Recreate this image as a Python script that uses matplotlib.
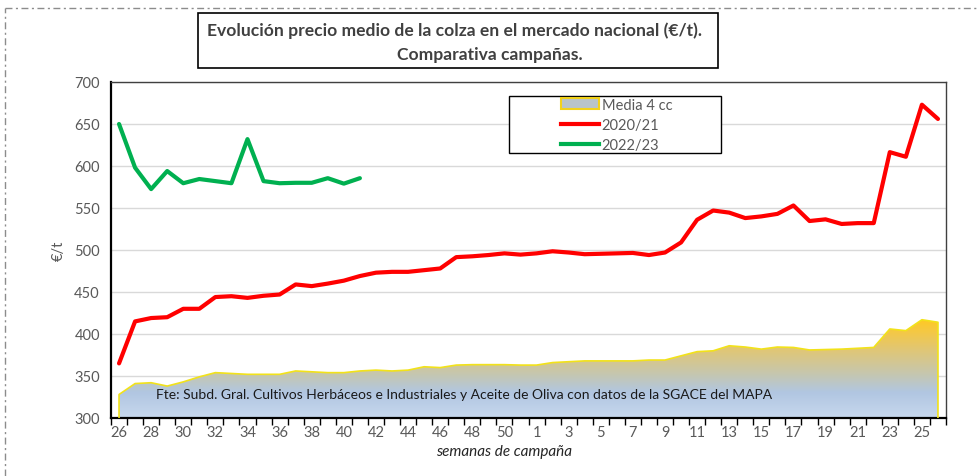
import numpy as np
import matplotlib
matplotlib.use('Agg')
import matplotlib.pyplot as plt
from matplotlib.colors import LinearSegmentedColormap
from matplotlib.patches import Rectangle, Patch
from matplotlib.lines import Line2D

plt.rcParams['font.family'] = ['Lato', 'DejaVu Sans']

# semanas de campaña (26..51 y 1..26)
semanas = [26, 27, 28, 29, 30, 31, 32, 33, 34, 35, 36, 37, 38, 39, 40, 41, 42, 43, 44,
           45, 46, 47, 48, 49, 50, 51, 1, 2, 3, 4, 5, 6, 7, 8, 9, 10, 11, 12, 13, 14,
           15, 16, 17, 18, 19, 20, 21, 22, 23, 24, 25, 26]

media_4cc = [328, 341, 342, 338, 343, 349, 354, 353, 352, 352, 352, 356, 355, 354,
             354, 356, 357, 356, 357, 361, 360, 363, 363.5, 363.5, 363.5, 363, 363,
             366, 367, 368, 368, 368, 368, 369, 369, 374, 379, 380, 386, 384.5, 382,
             384.5, 384, 381, 381.5, 382, 383, 384, 406, 404, 417, 414]

c2020_21 = [365, 415, 419, 420, 430, 430, 444, 445, 443, 445.5, 447, 459, 457, 460,
            463.5, 469, 473, 474, 474, 476, 478, 491.5, 492.5, 494, 496, 494.5, 496,
            498.5, 497, 495, 495.5, 496, 496.5, 494, 497, 509, 536, 547, 544.5, 538,
            540, 543, 553, 534.5, 536.5, 531, 532, 532, 616.5, 611, 673, 656]

c2022_23 = [650, 598, 572.5, 594, 579.5, 584.5, 582, 579.5, 632, 582, 579.5, 580,
            580, 585.5, 579, 585.5]

fig = plt.figure(figsize=(9.78, 4.77), dpi=100)
ax = fig.add_axes([111 / 978, 1 - 419 / 477, 835 / 978, 336 / 477])

x = np.arange(len(semanas))
ymin, ymax = 300, 700

# área con degradado (Media 4 cc)
x_m = np.arange(len(media_4cc))
poly = ax.fill_between(x_m, media_4cc, ymin, facecolor='none', edgecolor='none', zorder=2)
cmap = LinearSegmentedColormap.from_list('grad', [
    (0.0, '#c7d8ee'), (0.26, '#b1c6e1'), (0.43, '#c4c7b3'),
    (0.68, '#dfc678'), (0.86, '#f3c848'), (1.0, '#ffc922')])
grad = np.linspace(0, 1, 256).reshape(-1, 1)
img = ax.imshow(grad, cmap=cmap, origin='lower', aspect='auto', zorder=2,
                extent=[x_m[0], x_m[-1], ymin, max(media_4cc)])
img.set_clip_path(poly.get_paths()[0], transform=ax.transData)
edge_x = np.concatenate([[x_m[0]], x_m, [x_m[-1]]])
edge_y = np.concatenate([[ymin], media_4cc, [ymin]])
ax.plot(edge_x, edge_y, color='#f2e21a', lw=1.2, zorder=3)

ax.plot(x[:len(c2020_21)], c2020_21, color='#ff0000', lw=3, zorder=4,
        solid_joinstyle='round', solid_capstyle='round')
ax.plot(x[:len(c2022_23)], c2022_23, color='#00b050', lw=3, zorder=4,
        solid_joinstyle='round', solid_capstyle='round')

ax.set_xlim(-0.5, len(semanas) - 0.5)
ax.set_ylim(ymin, ymax)
ax.set_yticks(np.arange(300, 701, 50))
ax.grid(axis='y', color='#d9d9d9', lw=1, zorder=0)
ax.set_axisbelow(True)

ax.set_xticks(x[::2])
ax.set_xticklabels(semanas[::2])
ax.set_xticks(np.arange(-0.5, len(semanas), 1), minor=True)
ax.tick_params(axis='x', which='major', length=0, pad=5, labelsize=10.5, labelcolor='#595959')
ax.tick_params(axis='x', which='minor', length=5, width=1, color='black', direction='out')
ax.tick_params(axis='y', length=0, pad=8, labelsize=10.5, labelcolor='#595959')

for s in ['top', 'right']:
    ax.spines[s].set_color('#404040')
    ax.spines[s].set_linewidth(1)
for s in ['left', 'bottom']:
    ax.spines[s].set_color('black')
    ax.spines[s].set_linewidth(1.6)

ax.set_ylabel('€/t', fontsize=10.5, color='#595959', labelpad=6)
fig.text(504 / 978, 1 - 452 / 477, 'semanas de campaña', ha='center', va='center',
         fontsize=11, style='italic', color='#262626')

fig.text(156 / 978, 1 - 395 / 477,
         'Fte: Subd. Gral. Cultivos Herbáceos e Industriales y Aceite de Oliva con datos de la SGACE del MAPA',
         ha='left', va='center', fontsize=10, color='#1a1a1a', zorder=6)

# leyenda
ax.add_patch(Rectangle(((509 - 111) / 835, (419 - 154) / 336), 212 / 835, 57 / 336,
                       transform=ax.transAxes, facecolor='white', edgecolor='black',
                       lw=1, zorder=5))
handles = [Patch(facecolor='#b9c4c8', edgecolor='#f2d21a', lw=1.5),
           Line2D([0], [0], color='#ff0000', lw=3),
           Line2D([0], [0], color='#00b050', lw=3)]
leg = ax.legend(handles, ['Media 4 cc', '2020/21', '2022/23'], loc='upper left',
                bbox_to_anchor=((558 - 111) / 835, (419 - 96) / 336), frameon=False,
                fontsize=10.5, handlelength=2.6, handleheight=0.8, labelspacing=0.42,
                handletextpad=0.2, borderpad=0.2, borderaxespad=0)
leg.set_zorder(6)
for t in leg.get_texts():
    t.set_color('#595959')

# título
fig.patches.append(Rectangle((198 / 978, 1 - 69 / 477), 520 / 978, 55 / 477,
                             transform=fig.transFigure, facecolor='white',
                             edgecolor='black', lw=1.2))
fig.text(455 / 978, 1 - 31 / 477,
         'Evolución precio medio de la colza en el mercado nacional (€/t).',
         ha='center', va='center', fontsize=12.6, fontweight='bold', color='#404040')
fig.text(490 / 978, 1 - 55 / 477, 'Comparativa campañas.', ha='center', va='center',
         fontsize=12.6, fontweight='bold', color='#404040')

# borde discontinuo exterior
fig.lines.append(Line2D([5 / 978, 1], [1 - 9 / 477, 1 - 9 / 477], transform=fig.transFigure,
                        color='#8c8c8c', lw=1, linestyle=(0, (5, 2.5, 1.5, 2.5))))
fig.lines.append(Line2D([5 / 978, 5 / 978], [0, 1 - 9 / 477], transform=fig.transFigure,
                        color='#8c8c8c', lw=1, linestyle=(0, (5, 2.5, 1.5, 2.5))))

fig.savefig('out.png', dpi=100)
